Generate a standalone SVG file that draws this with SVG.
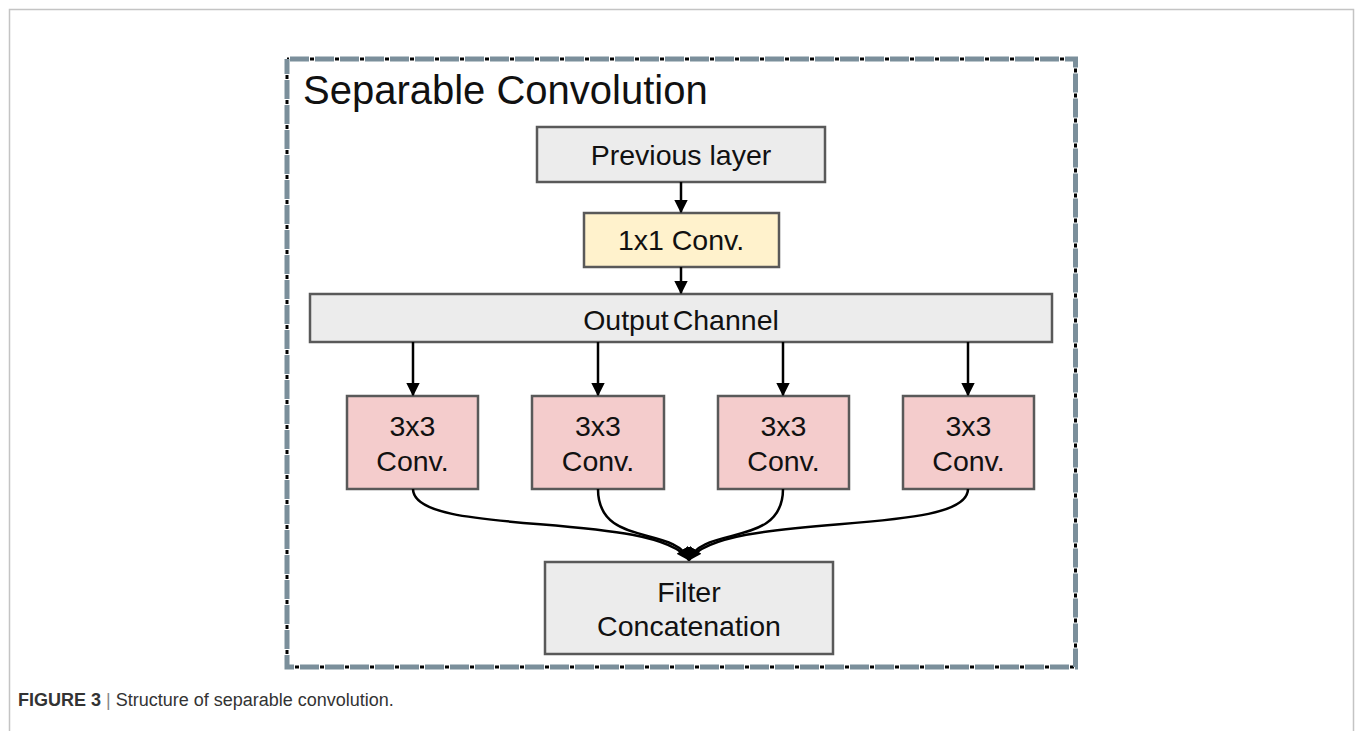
<svg xmlns="http://www.w3.org/2000/svg" width="1355" height="731" viewBox="0 0 1355 731">
  <style>
    .box { stroke: #595959; stroke-width: 2.5; }
    .grey { fill: #ececec; }
    .yellow { fill: #fff2cc; }
    .pink { fill: #f4cccc; }
    .lbl { font-family: "Liberation Sans", Arial, sans-serif; font-size: 28.5px; fill: #111; text-anchor: middle; }
    .edge { fill: none; stroke: #000; stroke-width: 2.5; }
  </style>
  <defs>
    <marker id="arr" viewBox="0 0 10 10" refX="9" refY="5" markerWidth="5.4" markerHeight="5.4" markerUnits="strokeWidth" orient="auto">
      <path d="M0,0 L10,5 L0,10 Z" fill="#000"/>
    </marker>
  </defs>

  <rect width="1355" height="731" fill="#fff"/>
  <!-- page frame -->
  <path d="M9.5,731 V9.5 H1353.5 V731" fill="none" stroke="#c4c4c4" stroke-width="1.5"/>

  <!-- dashed module outline -->
  <g id="outline">
    <rect x="287" y="59" width="788.5" height="608" fill="none" stroke="#000" stroke-width="3" stroke-dasharray="4 21" stroke-dashoffset="2"/>
    <rect x="287" y="59" width="788.5" height="608" fill="none" stroke="#7b8f9b" stroke-width="5" stroke-dasharray="19 6" stroke-dashoffset="-3"/>
    <text x="303" y="104" font-family="Liberation Sans, Arial, sans-serif" font-size="40" fill="#111">Separable Convolution</text>
  </g>

  <g id="prev">
    <rect class="box grey" x="537" y="127" width="288" height="55"/>
    <text class="lbl" x="681" y="165">Previous layer</text>
  </g>
  <g id="conv1x1">
    <rect class="box yellow" x="584" y="213" width="195" height="54"/>
    <text class="lbl" x="681" y="250">1x1 Conv.</text>
  </g>
  <g id="output">
    <rect class="box grey" x="310" y="294" width="742" height="48"/>
    <text class="lbl" x="681" y="330" word-spacing="-4">Output Channel</text>
  </g>
  <g id="conv3x3-1">
    <rect class="box pink" x="347" y="396" width="131" height="93"/>
    <text class="lbl" x="412.5" y="436">3x3</text>
    <text class="lbl" x="412.5" y="471">Conv.</text>
  </g>
  <g id="conv3x3-2">
    <rect class="box pink" x="532" y="396" width="132" height="93"/>
    <text class="lbl" x="598" y="436">3x3</text>
    <text class="lbl" x="598" y="471">Conv.</text>
  </g>
  <g id="conv3x3-3">
    <rect class="box pink" x="718" y="396" width="131" height="93"/>
    <text class="lbl" x="783.5" y="436">3x3</text>
    <text class="lbl" x="783.5" y="471">Conv.</text>
  </g>
  <g id="conv3x3-4">
    <rect class="box pink" x="903" y="396" width="131" height="93"/>
    <text class="lbl" x="968.5" y="436">3x3</text>
    <text class="lbl" x="968.5" y="471">Conv.</text>
  </g>
  <g id="concat">
    <rect class="box grey" x="545" y="562" width="288" height="92"/>
    <text class="lbl" x="689" y="602">Filter</text>
    <text class="lbl" x="689" y="636">Concatenation</text>
  </g>

  <g id="connectors">
    <line class="edge" x1="681" y1="182" x2="681" y2="212" marker-end="url(#arr)"/>
    <line class="edge" x1="681" y1="267" x2="681" y2="293" marker-end="url(#arr)"/>
    <line class="edge" x1="413" y1="342" x2="413" y2="395" marker-end="url(#arr)"/>
    <line class="edge" x1="598" y1="342" x2="598" y2="395" marker-end="url(#arr)"/>
    <line class="edge" x1="783" y1="342" x2="783" y2="395" marker-end="url(#arr)"/>
    <line class="edge" x1="968" y1="342" x2="968" y2="395" marker-end="url(#arr)"/>
    <path class="edge" d="M413,489 C413,538 655,510 689,560" marker-end="url(#arr)"/>
    <path class="edge" d="M598,489 C598,548 675,525 689,560" marker-end="url(#arr)"/>
    <path class="edge" d="M783,489 C783,548 703,525 689,560" marker-end="url(#arr)"/>
    <path class="edge" d="M968,489 C968,538 723,510 689,560" marker-end="url(#arr)"/>
  </g>

  <g id="caption" font-family="Liberation Sans, Arial, sans-serif" font-size="18" fill="#333">
    <text x="18" y="706"><tspan font-weight="bold">FIGURE 3</tspan><tspan fill="#888"> | </tspan>Structure of separable convolution.</text>
  </g>
</svg>
